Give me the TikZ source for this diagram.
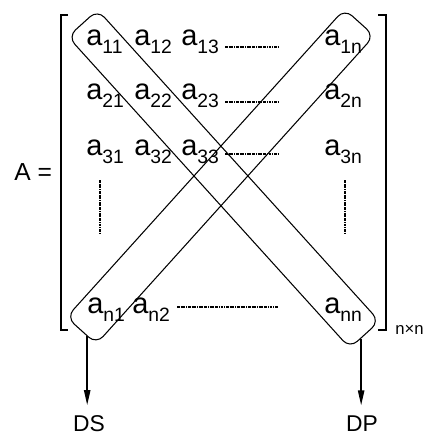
\documentclass[tikz,border=0pt]{standalone}
\usepackage{fontspec}
\setmainfont{Liberation Sans}
\usetikzlibrary{calc}
\usetikzlibrary{arrows.meta}

\newcommand{\elem}[1]{a\raisebox{-4.8pt}{\fontsize{11}{13}\selectfont #1}}

\tikzset{
  entry/.style={anchor=base west, inner sep=0pt, font=\fontsize{16.5}{19}\selectfont},
  capsule/.style={draw, line width=.6pt, rounded corners=2mm, minimum height=8mm, inner sep=0pt},
  dotline/.style={line width=.8pt, dash pattern=on 1.6pt off .5pt on .5pt off .5pt},
  bracket/.style={line width=1.1pt},
  lbl/.style={anchor=base, inner sep=0pt, outer sep=2mm, font=\fontsize{13}{15}\selectfont},
  arr/.style={line width=.8pt, -{Triangle[length=8.5pt,width=3.6pt]}}
}

\begin{document}
\begin{tikzpicture}[x=0.2mm, y=-0.2mm]
\useasboundingbox (0,0) rectangle (424,435);
% brackets
\draw[bracket] (68,15) -- (61,15) -- (61,330) -- (68,330);
\draw[bracket] (378,15) -- (386,15) -- (386,330) -- (378,330);
\node[anchor=base west, inner sep=0pt, font=\fontsize{14}{16}\selectfont] (lhs) at (14,180) {A =};
\node[anchor=west, inner sep=0pt, font=\fontsize{9.5}{11}\selectfont] (size) at (395,330) {n×n};
% entries
\foreach \rw/\y in {1/45,2/99,3/155} {
  \foreach \cl/\x in {1/86,2/134,3/181}
    \node[entry] (e\rw\cl) at (\x,\y) {\elem{\rw\cl}};
  \node[entry] (e\rw n) at (324,\y) {\elem{\rw n}};
}
\node[entry] (en1) at (87,313) {\elem{n1}};
\node[entry] (en2) at (132,313) {\elem{n2}};
\node[entry] (enn) at (324,313) {\elem{nn}};
% dots
\foreach \y in {47,102,154}
  \draw[dotline] (225,\y) -- (278,\y);
\draw[dotline] (177,307) -- (278,307);
\draw[dotline] (100,180) -- (100,233);
\draw[dotline] (345,180) -- (345,233);
% diagonals
\node[capsule, minimum width=84mm, rotate=-47.86] (diagP) at (223.7,179) {};
\node[capsule, minimum width=83mm, rotate=47.96] (diagS) at (220.4,176.5) {};
\coordinate (dsTop) at ($(diagS.west)!0.4!(diagS.south west)$);
\coordinate (dpTop) at ($(diagP.east)!0.25!(diagP.south east)$);
\node[lbl] (DS) at (89,431) {DS};
\node[lbl] (DP) at (362,431) {DP};
\draw[arr] (dsTop) -- (dsTop |- DS.north);
\draw[arr] (dpTop) -- (dpTop |- DP.north);
\end{tikzpicture}
\end{document}
